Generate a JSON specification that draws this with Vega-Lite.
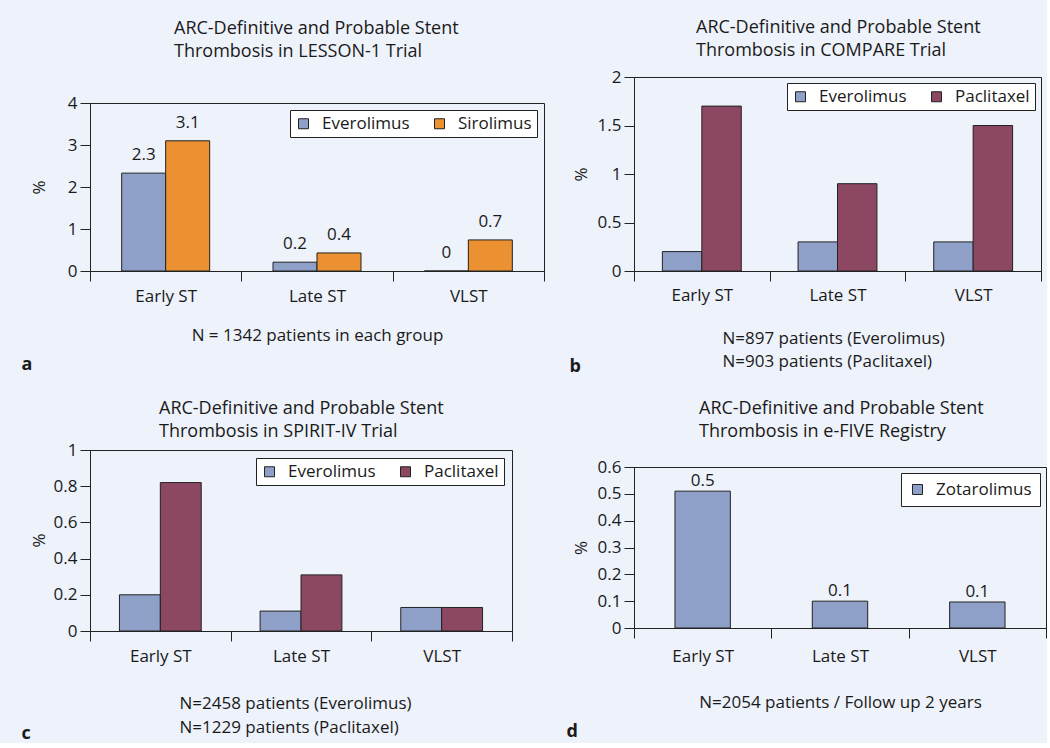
{
  "$schema": "https://vega.github.io/schema/vega-lite/v6.json",
  "background": "#eef2fa",
  "padding": {"left": 21, "top": 18, "right": 0, "bottom": 0},
  "config": {
    "font": "Open Sans",
    "view": {"stroke": "#222222", "strokeWidth": 1},
    "axis": {
      "grid": false, "domainColor": "#222222", "tickColor": "#222222",
      "labelColor": "#1a1a1a", "titleColor": "#1a1a1a",
      "labelFont": "Open Sans", "titleFont": "Open Sans",
      "labelFontSize": 17, "titleFontSize": 17, "titleFontWeight": "normal",
      "tickSize": 10
    },
    "axisY": {"labelPadding": 3, "titleX": -42},
    "axisX": {"labelAngle": 0, "tickBand": "extent", "labelBaseline": "alphabetic", "titleBaseline": "alphabetic", "titleLineHeight": 23},
    "title": {"font": "Open Sans", "fontSize": 18, "fontWeight": "normal", "color": "#1a1a1a", "lineHeight": 23, "anchor": "start", "frame": "group"},
    "legend": {
      "orient": "top-right", "direction": "horizontal", "title": null,
      "fillColor": "white", "strokeColor": "#222222",
      "labelFont": "Open Sans", "labelFontSize": 17, "labelColor": "#1a1a1a",
      "symbolType": "square", "symbolSize": 100, "symbolStrokeColor": "#222222", "symbolStrokeWidth": 1,
      "columnPadding": 21, "labelOffset": 10, "padding": 5, "offset": 6
    },
    "text": {"font": "Open Sans", "fontSize": 17, "color": "#1a1a1a"},
    "bar": {"stroke": "#222222", "strokeWidth": 1}
  },
  "resolve": {"scale": {"color": "independent", "xOffset": "independent"}, "legend": {"color": "independent"}},
  "spacing": 21,
  "hconcat": [
    {
      "spacing": 0,
      "resolve": {"scale": {"color": "independent", "xOffset": "independent"}, "legend": {"color": "independent"}},
      "vconcat": [
        {
          "width": 454, "height": 16,
          "view": {"stroke": null},
          "title": {"text": ["ARC-Definitive and Probable Stent", "Thrombosis in LESSON-1 Trial"], "dx": 84, "offset": 16},
          "data": {"values": [{"period": "Early ST"}]},
          "mark": {"type": "point", "opacity": 0},
          "encoding": {}
        },
        {
          "spacing": 25,
          "resolve": {"scale": {"color": "independent", "xOffset": "independent"}, "legend": {"color": "independent"}},
          "vconcat": [
            {
              "title": {"text": "a", "orient": "bottom", "anchor": "start", "frame": "bounds", "fontWeight": "bold", "fontSize": 18, "offset": 12, "dx": -8},
              "resolve": {"scale": {"color": "independent"}, "legend": {"color": "independent"}},
              "vconcat": [
                {
                  "width": 454, "height": 168,
                  "data": {"values": [
                    {"period": "Early ST", "stent": "Everolimus", "value": 2.33, "label": "2.3"},
                    {"period": "Early ST", "stent": "Sirolimus", "value": 3.1, "label": "3.1"},
                    {"period": "Late ST", "stent": "Everolimus", "value": 0.21, "label": "0.2"},
                    {"period": "Late ST", "stent": "Sirolimus", "value": 0.43, "label": "0.4"},
                    {"period": "VLST", "stent": "Everolimus", "value": 0, "label": "0"},
                    {"period": "VLST", "stent": "Sirolimus", "value": 0.74, "label": "0.7"}
                  ]},
                  "encoding": {
                    "x": {"field": "period", "type": "nominal", "sort": ["Early ST", "Late ST", "VLST"],
                          "scale": {"paddingInner": 0, "paddingOuter": 0},
                          "axis": {"title": "N = 1342 patients in each group", "titleX": 227, "titleY": 69, "labelPadding": 20}},
                    "xOffset": {"field": "stent", "type": "nominal", "sort": ["Everolimus", "Sirolimus"], "scale": {"paddingInner": 0, "paddingOuter": 0.72}},
                    "y": {"field": "value", "type": "quantitative", "scale": {"domain": [0, 4], "nice": false},
                          "axis": {"title": "%", "values": [0, 1, 2, 3, 4], "format": "~g", "titleY": 84}}
                  },
                  "layer": [
                    {"mark": {"type": "bar"},
                     "encoding": {"color": {"field": "stent", "type": "nominal", "sort": ["Everolimus", "Sirolimus"],
                       "scale": {"domain": ["Everolimus", "Sirolimus"], "range": ["#8fa0c8", "#ec9131"]},
                       "legend": {"offset": 7}}}},
                    {"mark": {"type": "text", "baseline": "alphabetic", "dy": -13},
                     "encoding": {"text": {"field": "label", "type": "nominal"}}}
                  ]
                }
              ]
            },
            {
              "title": {"text": "c", "orient": "bottom", "anchor": "start", "frame": "bounds", "fontWeight": "bold", "fontSize": 18, "offset": -11, "dx": -8},
              "resolve": {"scale": {"color": "independent"}, "legend": {"color": "independent"}},
              "vconcat": [
                {
                  "width": 422, "height": 181,
                  "title": {"text": ["ARC-Definitive and Probable Stent", "Thrombosis in SPIRIT-IV Trial"], "dx": 69, "offset": 0},
                  "data": {"values": [
                    {"period": "Early ST", "stent": "Everolimus", "value": 0.2},
                    {"period": "Early ST", "stent": "Paclitaxel", "value": 0.82},
                    {"period": "Late ST", "stent": "Everolimus", "value": 0.11},
                    {"period": "Late ST", "stent": "Paclitaxel", "value": 0.31},
                    {"period": "VLST", "stent": "Everolimus", "value": 0.13},
                    {"period": "VLST", "stent": "Paclitaxel", "value": 0.13}
                  ]},
                  "mark": {"type": "bar"},
                  "encoding": {
                    "x": {"field": "period", "type": "nominal", "sort": ["Early ST", "Late ST", "VLST"],
                          "scale": {"paddingInner": 0, "paddingOuter": 0},
                          "axis": {"title": ["N=2458 patients (Everolimus)", "N=1229 patients (Paclitaxel)"], "titleAlign": "left", "titleX": 89, "titleY": 77, "titleLineHeight": 24, "labelPadding": 20}},
                    "xOffset": {"field": "stent", "type": "nominal", "sort": ["Everolimus", "Paclitaxel"], "scale": {"paddingInner": 0, "paddingOuter": 0.72}},
                    "y": {"field": "value", "type": "quantitative", "scale": {"domain": [0, 1], "nice": false},
                          "axis": {"title": "%", "values": [0, 0.2, 0.4, 0.6, 0.8, 1], "format": "~g", "titleY": 90}},
                    "color": {"field": "stent", "type": "nominal", "sort": ["Everolimus", "Paclitaxel"],
                      "scale": {"domain": ["Everolimus", "Paclitaxel"], "range": ["#8fa0c8", "#8c4862"]},
                      "legend": {"offset": 8}}
                  }
                }
              ]
            }
          ]
        }
      ]
    },
    {
      "spacing": 23,
      "resolve": {"scale": {"color": "independent", "xOffset": "independent"}, "legend": {"color": "independent"}},
      "vconcat": [
        {
          "title": {"text": "b", "orient": "bottom", "anchor": "start", "frame": "bounds", "fontWeight": "bold", "fontSize": 18, "offset": -12, "dx": -2},
          "resolve": {"scale": {"color": "independent"}, "legend": {"color": "independent"}},
          "vconcat": [
            {
              "width": 407, "height": 194,
              "title": {"text": ["ARC-Definitive and Probable Stent", "Thrombosis in COMPARE Trial"], "dx": 62, "offset": 8},
              "data": {"values": [
                {"period": "Early ST", "stent": "Everolimus", "value": 0.2},
                {"period": "Early ST", "stent": "Paclitaxel", "value": 1.7},
                {"period": "Late ST", "stent": "Everolimus", "value": 0.3},
                {"period": "Late ST", "stent": "Paclitaxel", "value": 0.9},
                {"period": "VLST", "stent": "Everolimus", "value": 0.3},
                {"period": "VLST", "stent": "Paclitaxel", "value": 1.5}
              ]},
              "mark": {"type": "bar"},
              "encoding": {
                "x": {"field": "period", "type": "nominal", "sort": ["Early ST", "Late ST", "VLST"],
                      "scale": {"paddingInner": 0, "paddingOuter": 0},
                      "axis": {"title": ["N=897 patients (Everolimus)", "N=903 patients (Paclitaxel)"], "titleAlign": "left", "titleX": 88, "titleY": 72, "labelPadding": 19}},
                "xOffset": {"field": "stent", "type": "nominal", "sort": ["Everolimus", "Paclitaxel"], "scale": {"paddingInner": 0, "paddingOuter": 0.72}},
                "y": {"field": "value", "type": "quantitative", "scale": {"domain": [0, 2], "nice": false},
                      "axis": {"title": "%", "values": [0, 0.5, 1, 1.5, 2], "format": "~g", "titleY": 97, "titleX": -44}},
                "color": {"field": "stent", "type": "nominal", "sort": ["Everolimus", "Paclitaxel"],
                  "scale": {"domain": ["Everolimus", "Paclitaxel"], "range": ["#8fa0c8", "#8c4862"]}}
              }
            }
          ]
        },
        {
          "title": {"text": "d", "orient": "bottom", "anchor": "start", "frame": "bounds", "fontWeight": "bold", "fontSize": 18, "offset": 12, "dx": -5},
          "resolve": {"scale": {"color": "independent"}, "legend": {"color": "independent"}},
          "vconcat": [
            {
              "width": 412, "height": 161,
              "title": {"text": ["ARC-Definitive and Probable Stent", "Thrombosis in e-FIVE Registry"], "dx": 65, "offset": 17},
              "data": {"values": [
                {"period": "Early ST", "stent": "Zotarolimus", "value": 0.51, "label": "0.5"},
                {"period": "Late ST", "stent": "Zotarolimus", "value": 0.1, "label": "0.1"},
                {"period": "VLST", "stent": "Zotarolimus", "value": 0.097, "label": "0.1"}
              ]},
              "encoding": {
                "x": {"field": "period", "type": "nominal", "sort": ["Early ST", "Late ST", "VLST"],
                      "scale": {"paddingInner": 0, "paddingOuter": 0},
                      "axis": {"title": "N=2054 patients / Follow up 2 years", "titleX": 206, "titleY": 79, "labelPadding": 23}},
                "xOffset": {"field": "stent", "type": "nominal", "scale": {"paddingInner": 0, "paddingOuter": 0.74}},
                "y": {"field": "value", "type": "quantitative", "scale": {"domain": [0, 0.6], "nice": false},
                      "axis": {"title": "%", "values": [0, 0.1, 0.2, 0.3, 0.4, 0.5, 0.6], "format": "~g", "titleY": 80.5, "titleX": -44}}
              },
              "layer": [
                {"mark": {"type": "bar"},
                 "encoding": {"color": {"field": "stent", "type": "nominal",
                   "scale": {"domain": ["Zotarolimus"], "range": ["#8fa0c8"]},
                   "legend": {"padding": 8, "offset": 6}}}},
                {"mark": {"type": "text", "baseline": "alphabetic", "dy": -5},
                 "encoding": {"text": {"field": "label", "type": "nominal"}}}
              ]
            }
          ]
        }
      ]
    }
  ]
}
